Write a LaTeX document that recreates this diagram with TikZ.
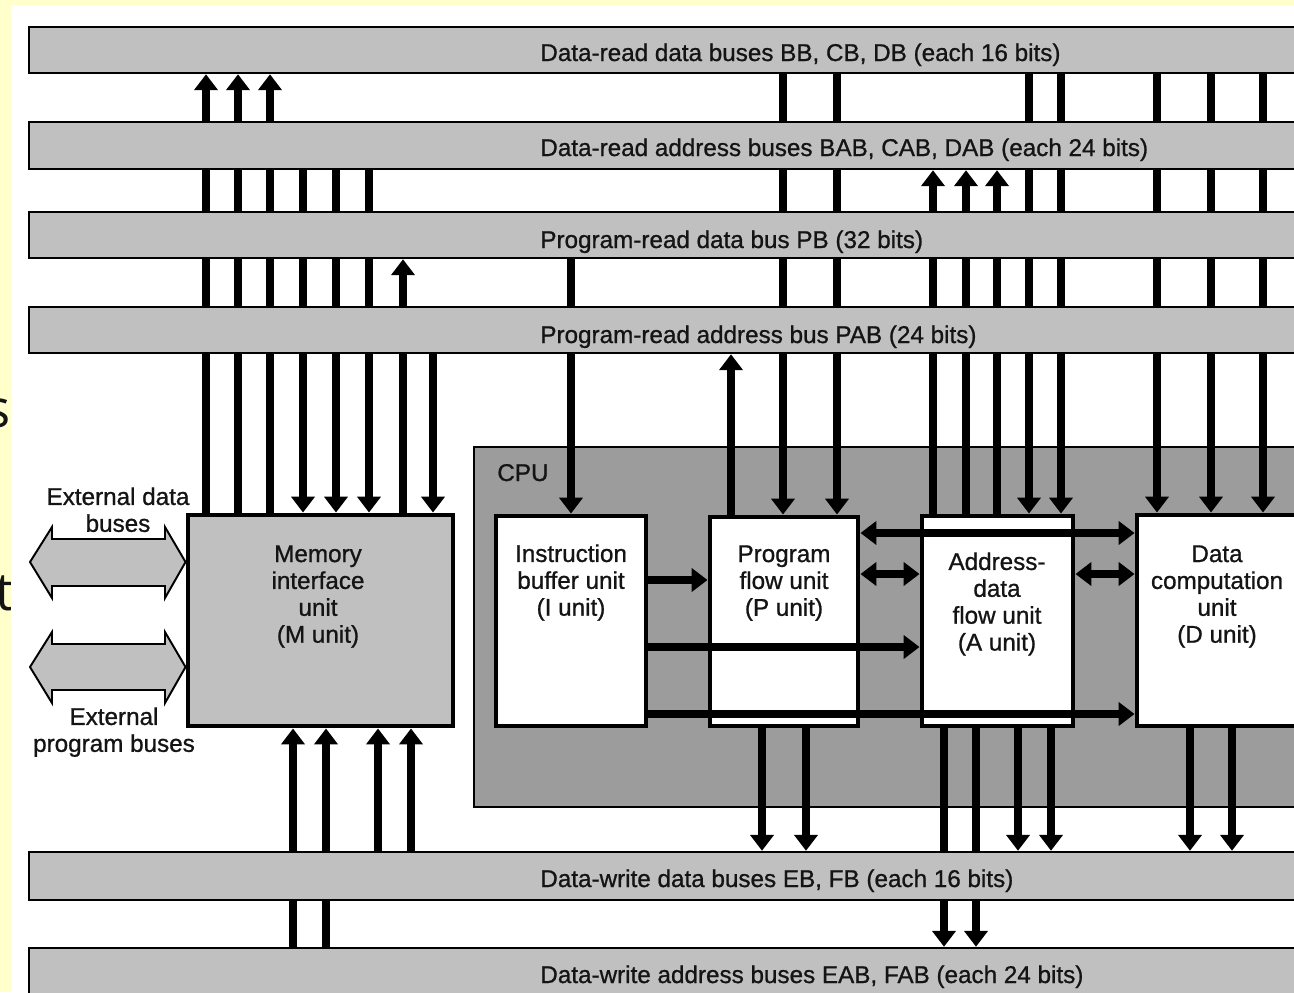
\documentclass[tikz,border=0pt]{standalone}
\usepackage{fontspec}
\setmainfont{Liberation Sans}
\newfontfamily\lblfont{Liberation Sans}[FakeBold=0.9]
\newfontfamily\slidefont{Open Sans}
\usetikzlibrary{arrows.meta,fit}
\definecolor{slide}{HTML}{FFFFCC}
\definecolor{busgray}{HTML}{C0C0C0}
\definecolor{cpugray}{HTML}{9C9C9C}
\definecolor{ink}{HTML}{141414}
\pgfdeclarelayer{back}
\pgfdeclarelayer{wires}
\pgfsetlayers{back,wires,main}

\begin{document}
\begin{tikzpicture}[x=0.02cm,y=-0.02cm,
  lbl/.style={font=\lblfont\fontsize{13.8}{15.3}\selectfont,inner sep=0pt,text=ink},
  frag/.style={font=\slidefont\fontsize{30}{36}\selectfont,inner sep=0pt,text=ink},
  bus/.style={draw,line width=1.4pt,fill=busgray,inner sep=0pt},
  unit/.style={draw,line width=2.8pt,fill=white,inner sep=0pt},
  wire/.style={line width=4.3pt},
  feed/.style={wire,-{Triangle[width=13pt,length=9pt]}},
  duplex/.style={wire,{Triangle[width=13pt,length=9pt]}-{Triangle[width=13pt,length=9pt]}},
  extbus/.style={draw,line width=1.1pt,fill=busgray,line join=miter}]
  \path[use as bounding box] (0,0) rectangle (1294,992);
  \clip (0,0) rectangle (1294,992);
  \begin{pgfonlayer}{back}
    \clip (0,0) rectangle (1294,992);
    \fill[slide] (0,0) rectangle (1294,992);
    \node[frag,anchor=base east] (fs) at (11,427) {s};
    \node[frag,anchor=base west] (ft) at (-5,610) {t};
    \fill[white] (11,5) rectangle (1294,992);
    \node[draw,line width=1.1pt,fill=cpugray,inner sep=0pt,fit={(474,447) (1310,807)}] (cpu) {};
    \node[lbl,anchor=base west] (cpul) at (497,481) {CPU};
  \end{pgfonlayer}

  \node[bus,fit={(29,27) (1320,73)}] (bb) {};
  \node[bus,fit={(29,122) (1320,169)}] (bab) {};
  \node[bus,fit={(29,212) (1320,258)}] (pb) {};
  \node[bus,fit={(29,307) (1320,353)}] (pab) {};
  \node[bus,fit={(29,852) (1320,900)}] (eb) {};
  \node[bus,fit={(29,948) (1320,996)}] (eab) {};
  \node[lbl,anchor=base west] (bbl) at (540,61) {Data-read data buses BB, CB, DB (each 16 bits)};
  \node[lbl,anchor=base west] (babl) at (540,156) {Data-read address buses BAB, CAB, DAB (each 24 bits)};
  \node[lbl,anchor=base west] (pbl) at (540,248) {Program-read data bus PB (32 bits)};
  \node[lbl,anchor=base west] (pabl) at (540,343) {Program-read address bus PAB (24 bits)};
  \node[lbl,anchor=base west] (ebl) at (540,887) {Data-write data buses EB, FB (each 16 bits)};
  \node[lbl,anchor=base west] (eabl) at (540,983) {Data-write address buses EAB, FAB (each 24 bits)};

  \node[unit,fill=busgray,fit={(188,515) (453,726)}] (M) {};
  \node[unit,fit={(496,516) (646,726)}] (I) {};
  \node[unit,fit={(710,517) (858,726)}] (P) {};
  \node[unit,fit={(922,516) (1073,726)}] (A) {};
  \node[unit,fit={(1137,515) (1298,726)}] (D) {};
  \node[lbl,align=center,anchor=north] (Ml) at (318,545) {Memory\\interface\\unit\\(M unit)};
  \node[lbl,align=center,anchor=north] (Il) at (571,544) {Instruction\\buffer unit\\(I unit)};
  \node[lbl,align=center,anchor=north] (Pl) at (784,545) {Program\\flow unit\\(P unit)};
  \node[lbl,align=center,anchor=north] (Al) at (997,552) {Address-\\data\\flow unit\\(A unit)};
  \node[lbl,align=center,anchor=north] (Dl) at (1217,545) {Data\\computation\\unit\\(D unit)};

  \draw[feed] (I.east |- 0,580) -- (P.west |- 0,580);
  \draw[duplex] (P.east |- 0,574) -- (A.west |- 0,574);
  \draw[duplex] (A.east |- 0,574) -- (D.west |- 0,574);
  \draw[duplex] (P.east |- 0,533) -- (D.west |- 0,533);
  \draw[feed] (I.east |- 0,647) -- (A.west |- 0,647);
  \draw[feed] (I.east |- 0,714) -- (D.west |- 0,714);

  \draw[extbus] (30,562) -- (52,527) -- (52,539) -- (165,539) -- (165,527) -- (M.west |- 0,562)
    -- (165,598) -- (165,586) -- (52,586) -- (52,598) -- cycle;
  \draw[extbus] (30,667) -- (52,632) -- (52,644) -- (165,644) -- (165,632) -- (M.west |- 0,667)
    -- (165,703) -- (165,690) -- (52,690) -- (52,703) -- cycle;
  \node[lbl,align=center,anchor=north] (extd) at (118,487) {External data\\buses};
  \node[lbl,align=center,anchor=north] (extp) at (114,707) {External\\program buses};

  \begin{pgfonlayer}{wires}
    \foreach \x in {206,238,270} \draw[feed] (\x,0 |- M.north) -- (\x,0 |- bb.south);
    \foreach \x in {303,336,369} \draw[feed] (\x,0 |- bab.south) -- (\x,0 |- M.north);
    \draw[feed] (403,0 |- M.north) -- (403,0 |- pb.south);
    \draw[feed] (433,0 |- pab.south) -- (433,0 |- M.north);
    \foreach \x in {293,326} \draw[feed] (\x,0 |- eab.north) -- (\x,0 |- M.south);
    \foreach \x in {378,411} \draw[feed] (\x,0 |- eb.north) -- (\x,0 |- M.south);
    \draw[feed] (571,0 |- pb.south) -- (571,0 |- I.north);
    \draw[feed] (731,0 |- P.north) -- (731,0 |- pab.south);
    \foreach \x in {783,837} \draw[feed] (\x,0 |- bb.south) -- (\x,0 |- P.north);
    \foreach \x in {762,806} \draw[feed] (\x,0 |- P.south) -- (\x,0 |- eb.north);
    \foreach \x in {933,966,997} \draw[feed] (\x,0 |- A.north) -- (\x,0 |- bab.south);
    \foreach \x in {1029,1061} \draw[feed] (\x,0 |- bb.south) -- (\x,0 |- A.north);
    \foreach \x in {944,976} \draw[feed] (\x,0 |- A.south) -- (\x,0 |- eab.north);
    \foreach \x in {1018,1051} \draw[feed] (\x,0 |- A.south) -- (\x,0 |- eb.north);
    \foreach \x in {1157,1211,1263} \draw[feed] (\x,0 |- bb.south) -- (\x,0 |- D.north);
    \foreach \x in {1190,1232} \draw[feed] (\x,0 |- D.south) -- (\x,0 |- eb.north);
  \end{pgfonlayer}
\end{tikzpicture}
\end{document}
